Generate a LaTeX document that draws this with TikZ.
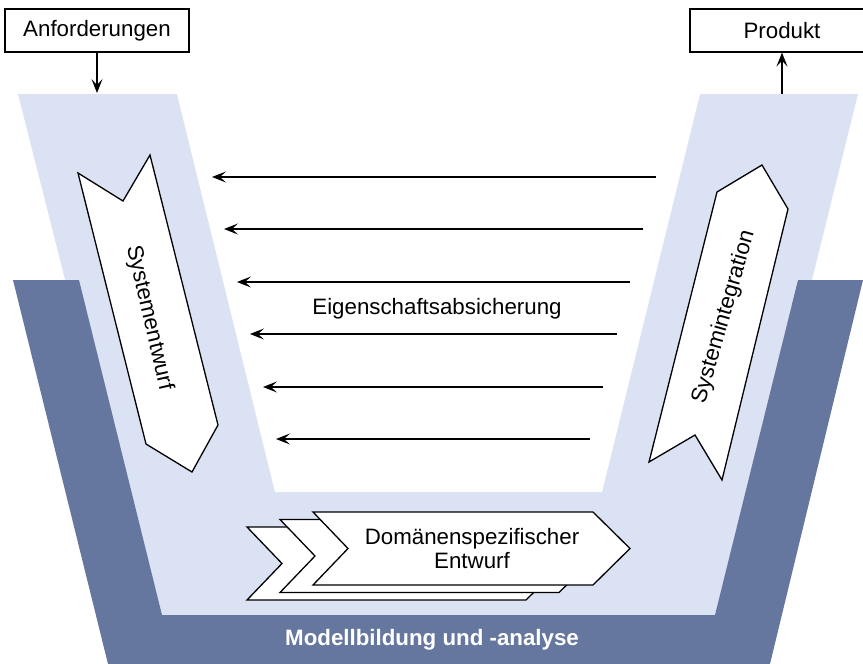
\documentclass[tikz,border=0pt]{standalone}
\usepackage{fontspec}
\setmainfont{Liberation Sans}
\usetikzlibrary{arrows.meta}
\definecolor{bandlight}{RGB}{219,226,244}
\definecolor{banddark}{RGB}{102,119,159}
\begin{document}
\begin{tikzpicture}[x=1pt,y=-1pt,
  lbl/.style={font=\fontsize{22.3}{24}\selectfont, align=center, inner sep=0pt},
  boxlbl/.style={draw, line width=1.2pt, fill=white, font=\fontsize{22.3}{24}\selectfont,
                 minimum width=184pt, minimum height=43pt, inner sep=0pt},
  flow/.style={line width=1.1pt, -{Stealth[length=14pt,width=11pt,inset=6pt]}},
  outline/.style={draw=black, line width=1.3pt, fill=white, line join=miter}]
\clip (0,0) rectangle (863,664);

% background bands of the V
\fill[bandlight] (18,94) -- (858,94) -- (729,615) -- (150,615) -- cycle;
\fill[banddark] (13,280) -- (79,280) -- (162,615) -- (715,615) -- (798,280)
  -- (863,280) -- (770,664) -- (108,664) -- cycle;
\fill[white] (177,94) -- (700,94) -- (602,492) -- (275,492) -- cycle;

% input and output boxes
\node[boxlbl] (req)  at (97,30.5)  {Anforderungen};
\node[boxlbl] (prod) at (782,30.5) {Produkt};
\coordinate (reqin)   at (97,93);
\coordinate (prodout) at (782,94);
\draw[flow] (req.south) -- (reqin);
\draw[flow] (prodout) -- (prod.south);

% design and integration arrows
\draw[outline] (78,173) -- (123,201) -- (150,155) -- (218,425) -- (192,472) -- (146,444) -- cycle;
\node[lbl, rotate=-77] (design) at (149,318) {Systementwurf};
\draw[outline] (762,165) -- (788,209) -- (722,480) -- (695,435) -- (649,462) -- (717,192) -- cycle;
\node[lbl, rotate=74] (integ) at (724,317) {Systemintegration};

% property assurance arrows
\foreach \i/\xs/\xe/\y in {1/656/212/177, 2/643/224/229, 3/630/237/282,
                           4/617/250/334, 5/603/263/387, 6/590/276/439} {
  \coordinate (as\i) at (\xs,\y);
  \coordinate (ae\i) at (\xe,\y);
  \draw[flow] (as\i) -- (ae\i);
}
\node[lbl] (assure) at (437,309) {Eigenschaftsabsicherung};

% domain-specific design stack
\draw[outline] (247,527) -- (526,527) -- (563,563.5) -- (526,600) -- (247,600) -- (282,563.5) -- cycle;
\draw[outline] (280,519.5) -- (559,519.5) -- (596,556) -- (559,592.5) -- (280,592.5) -- (315,556) -- cycle;
\draw[outline] (313,512) -- (593,512) -- (630,548.5) -- (593,585) -- (313,585) -- (348,548.5) -- cycle;
\node[lbl] (domain) at (472,549) {Domänenspezifischer\\Entwurf};

% modelling band label
\node[lbl, text=white, font=\fontsize{22.3}{24}\selectfont\bfseries] (model) at (432,640) {Modellbildung und -analyse};
\end{tikzpicture}
\end{document}
